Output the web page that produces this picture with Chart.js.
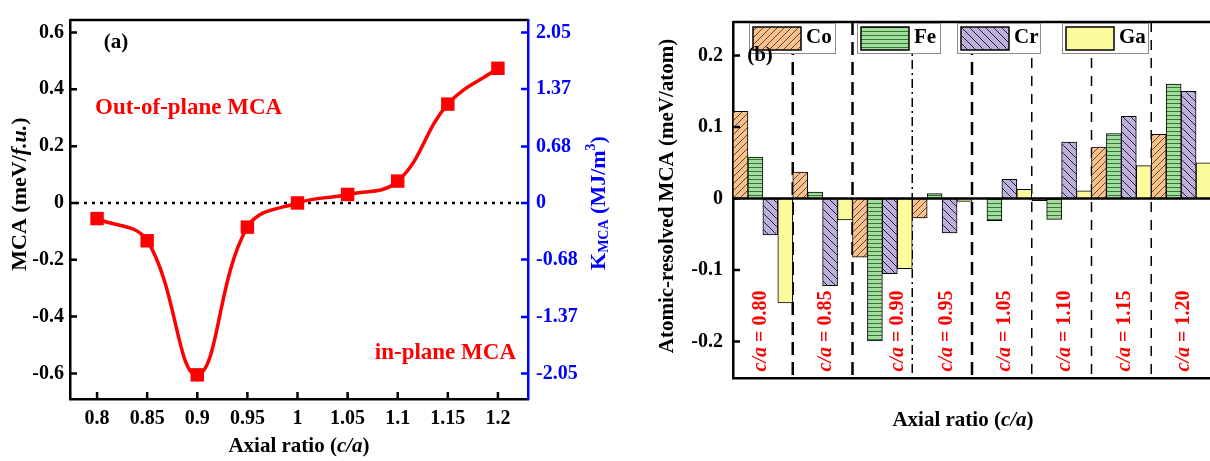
<!DOCTYPE html>
<html lang="en">
<head>
<meta charset="UTF-8">
<title>MCA vs axial ratio</title>
<script src="https://cdn.jsdelivr.net/npm/chart.js"></script>
<style>
  html, body { margin: 0; padding: 0; background: #fff; overflow: hidden; }
  #wrapA { position: absolute; left: 0; top: 0; width: 620px; height: 461px; }
  #wrapB { position: absolute; left: 630px; top: 0; width: 581px; height: 461px; }
</style>
</head>
<body>
<div id="wrapA"><canvas id="chartA"></canvas></div>
<div id="wrapB"><canvas id="chartB"></canvas></div>
<script>
// ---- panel (a) data ----
var axialRatios = [0.8, 0.85, 0.9, 0.95, 1.0, 1.05, 1.1, 1.15, 1.2];
var mcaValues = [-0.055, -0.133, -0.605, -0.085, 0.0, 0.03, 0.077, 0.348, 0.474];
var xTickValues = [0.8, 0.85, 0.9, 0.95, 1.0, 1.05, 1.1, 1.15, 1.2];
var xTickLabels = ['0.8', '0.85', '0.9', '0.95', '1', '1.05', '1.1', '1.15', '1.2'];
var leftTickValues = [-0.6, -0.4, -0.2, 0, 0.2, 0.4, 0.6];
var leftTickLabels = ['-0.6', '-0.4', '-0.2', '0', '0.2', '0.4', '0.6'];
var rightTickValues = [-2.05, -1.37, -0.68, 0, 0.68, 1.37, 2.05];
var rightTickLabels = ['-2.05', '-1.37', '-0.68', '0', '0.68', '1.37', '2.05'];

// ---- panel (b) data ----
var groupLabels = ['0.80', '0.85', '0.90', '0.95', '1.05', '1.10', '1.15', '1.20'];
var elementNames = ['Co', 'Fe', 'Cr', 'Ga'];
var coValues = [0.122, 0.037, -0.082, -0.027, 0, -0.003, 0.072, 0.090];
var feValues = [0.058, 0.009, -0.199, 0.007, -0.031, -0.029, 0.091, 0.160];
var crValues = [-0.051, -0.122, -0.105, -0.048, 0.027, 0.079, 0.115, 0.150];
var gaValues = [-0.146, -0.030, -0.098, -0.004, 0.013, 0.011, 0.046, 0.050];
var bTickValues = [-0.2, -0.1, 0, 0.1, 0.2];
var bTickLabels = ['-0.2', '-0.1', '0', '0.1', '0.2'];

var SERIF = '"Liberation Serif", "Times New Roman", serif';
var K_FACTOR = 2.05 / 0.6;  // MJ/m^3 per meV/f.u.

// draw a row of text pieces with mixed fonts, centred on (cx, cy)
function drawRich(ctx, parts, cx, cy, rot, align) {
    ctx.save();
    ctx.translate(cx, cy);
    if (rot) ctx.rotate(rot);
    ctx.textBaseline = 'middle';
    ctx.textAlign = 'left';
    var total = 0;
    parts.forEach(function (p) { ctx.font = p.font; total += ctx.measureText(p.t).width; });
    var x = align === 'left' ? 0 : (align === 'right' ? -total : -total / 2);
    parts.forEach(function (p) {
        ctx.font = p.font;
        ctx.fillStyle = p.color || '#000';
        ctx.fillText(p.t, x, p.dy || 0);
        x += ctx.measureText(p.t).width;
    });
    ctx.restore();
}

function bold(size) { return 'bold ' + size + 'px ' + SERIF; }
function boldItalic(size) { return 'italic bold ' + size + 'px ' + SERIF; }

// inward tick marks
function drawInwardTicks(ctx, scale, side, len, color) {
    ctx.save();
    ctx.strokeStyle = color;
    ctx.lineWidth = 2.5;
    ctx.beginPath();
    scale.ticks.forEach(function (t) {
        var p = scale.getPixelForValue(t.value);
        if (side === 'bottom') { ctx.moveTo(p, scale.top); ctx.lineTo(p, scale.top - len); }
        if (side === 'left') { ctx.moveTo(scale.right, p); ctx.lineTo(scale.right + len, p); }
        if (side === 'right') { ctx.moveTo(scale.left, p); ctx.lineTo(scale.left - len, p); }
    });
    ctx.stroke();
    ctx.restore();
}

// ---------------- panel (a) ----------------
var panelAPlugin = {
    id: 'panelA',
    beforeDatasetsDraw: function (chart) {
        var ctx = chart.ctx, a = chart.chartArea;
        var y0 = chart.scales.y.getPixelForValue(0);
        ctx.save();
        ctx.strokeStyle = '#000';
        ctx.lineWidth = 2.5;
        ctx.setLineDash([3, 5]);
        ctx.beginPath();
        ctx.moveTo(a.left + 6, y0);
        ctx.lineTo(a.right - 4, y0);
        ctx.stroke();
        ctx.restore();
    },
    afterDraw: function (chart) {
        var ctx = chart.ctx, a = chart.chartArea;
        // top frame
        ctx.save();
        ctx.strokeStyle = '#000';
        ctx.lineWidth = 2.5;
        ctx.beginPath();
        ctx.moveTo(a.left, a.top);
        ctx.lineTo(a.right, a.top);
        ctx.stroke();
        ctx.restore();
        drawInwardTicks(ctx, chart.scales.x, 'bottom', 7, '#000');
        drawInwardTicks(ctx, chart.scales.y, 'left', 7, '#000');
        drawInwardTicks(ctx, chart.scales.y2, 'right', 7, '#0000ff');

        drawRich(ctx, [{ t: '(a)', font: bold(21) }], 116, 43, 0);
        drawRich(ctx, [{ t: 'Out-of-plane MCA', font: bold(23), color: '#ff0000' }], 95, 108, 0, 'left');
        drawRich(ctx, [{ t: 'in-plane MCA', font: bold(23), color: '#ff0000' }], 516, 353, 0, 'right');

        drawRich(ctx, [
            { t: 'Axial ratio (', font: bold(21) },
            { t: 'c/a', font: boldItalic(21) },
            { t: ')', font: bold(21) }
        ], (a.left + a.right) / 2, 447, 0);
        drawRich(ctx, [
            { t: 'MCA (meV/', font: bold(22) },
            { t: 'f.u.', font: boldItalic(22) },
            { t: ')', font: bold(22) }
        ], 20, 194, -Math.PI / 2);
        drawRich(ctx, [
            { t: 'K', font: bold(22), color: '#0000ff' },
            { t: 'MCA', font: bold(14), color: '#0000ff', dy: 5 },
            { t: ' (MJ/m', font: bold(22), color: '#0000ff' },
            { t: '3', font: bold(14), color: '#0000ff', dy: -8 },
            { t: ')', font: bold(22), color: '#0000ff' }
        ], 599, 203, -Math.PI / 2);
    }
};

var yMinA = -0.69, yMaxA = 0.644;

new Chart(document.getElementById('chartA'), {
    type: 'line',
    data: {
        datasets: [{
            data: axialRatios.map(function (x, i) { return { x: x, y: mcaValues[i] }; }),
            borderColor: '#ff0000',
            backgroundColor: '#ff0000',
            borderWidth: 3.5,
            tension: 0.4,
            pointStyle: 'rect',
            pointRadius: 9.5,
            pointBorderWidth: 0,
            yAxisID: 'y'
        }]
    },
    options: {
        responsive: true,
        maintainAspectRatio: false,
        animation: false,
        layout: { padding: { top: 8, left: 0, right: 0, bottom: 0 } },
        plugins: { legend: { display: false }, tooltip: { enabled: false } },
        scales: {
            x: {
                type: 'linear',
                min: 0.773, max: 1.23,
                afterBuildTicks: function (s) { s.ticks = xTickValues.map(function (v) { return { value: v }; }); },
                afterFit: function (s) { s.height = 62; },
                grid: { display: false, drawTicks: false },
                border: { display: true, color: '#000', width: 2.5 },
                ticks: {
                    padding: 8, color: '#000', font: { family: SERIF, size: 20, weight: 'bold' },
                    maxRotation: 0, autoSkip: false,
                    callback: function (v, i) { return xTickLabels[i]; }
                }
            },
            y: {
                position: 'left',
                min: yMinA, max: yMaxA,
                afterBuildTicks: function (s) { s.ticks = leftTickValues.map(function (v) { return { value: v }; }); },
                afterFit: function (s) { s.width = 70; },
                grid: { display: false, drawTicks: false },
                border: { display: true, color: '#000', width: 2.5 },
                ticks: {
                    padding: 6, color: '#000', font: { family: SERIF, size: 20, weight: 'bold' },
                    autoSkip: false,
                    callback: function (v, i) { return leftTickLabels[i]; }
                }
            },
            y2: {
                position: 'right',
                min: yMinA * K_FACTOR, max: yMaxA * K_FACTOR,
                afterBuildTicks: function (s) { s.ticks = rightTickValues.map(function (v) { return { value: v }; }); },
                afterFit: function (s) { s.width = 92; },
                grid: { display: false, drawTicks: false },
                border: { display: true, color: '#0000ff', width: 2.5 },
                ticks: {
                    padding: 8, color: '#0000ff', font: { family: SERIF, size: 20, weight: 'bold' },
                    autoSkip: false,
                    callback: function (v, i) { return rightTickLabels[i]; }
                }
            }
        }
    },
    plugins: [panelAPlugin]
});

// ---------------- panel (b) ----------------
function makePattern(bg, line, kind, size) {
    var c = document.createElement('canvas');
    var s = size;
    c.width = s; c.height = s;
    var g = c.getContext('2d');
    g.fillStyle = bg;
    g.fillRect(0, 0, s, s);
    if (kind) {
        g.strokeStyle = line;
        g.lineWidth = 1;
        g.beginPath();
        if (kind === 'h') {
            g.moveTo(0, s - 0.5); g.lineTo(s, s - 0.5);
        } else if (kind === 'fwd') {
            g.moveTo(0, s); g.lineTo(s, 0);
            g.moveTo(-1, 1); g.lineTo(1, -1);
            g.moveTo(s - 1, s + 1); g.lineTo(s + 1, s - 1);
        } else {
            g.moveTo(0, 0); g.lineTo(s, s);
            g.moveTo(-1, s - 1); g.lineTo(1, s + 1);
            g.moveTo(s - 1, -1); g.lineTo(s + 1, 1);
        }
        g.stroke();
    }
    return g.createPattern(c, 'repeat');
}

var coFill = makePattern('#f8c290', '#6b4424', 'fwd', 7);
var feFill = makePattern('#a6dba0', '#2f7a35', 'h', 4);
var crFill = makePattern('#bdb1d9', '#2a2440', 'back', 8);
var gaFill = makePattern('#fbfb9e', null, null, 4);
var fills = [coFill, feFill, crFill, gaFill];

var separatorStyles = [
    { w: 2.5, dash: [13, 7] },
    { w: 2.5, dash: [13, 7] },
    { w: 1.5, dash: [9, 4, 2, 4] },
    { w: 2.5, dash: [13, 7] },
    { w: 1.5, dash: [10, 8] },
    { w: 1.5, dash: [10, 8] },
    { w: 1.5, dash: [10, 8] }
];
var labelShift = [-2, 3, 15, 5, 3, 3, 3, 3];
var legendOffsets = [16, 124, 224, 329];
var legendWidths = [86, 83, 83, 86];

var panelBPlugin = {
    id: 'panelB',
    beforeDatasetsDraw: function (chart) {
        var ctx = chart.ctx, a = chart.chartArea, xs = chart.scales.x;
        ctx.save();
        ctx.strokeStyle = '#000';
        for (var i = 0; i < groupLabels.length - 1; i++) {
            var st = separatorStyles[i];
            var xp = (xs.getPixelForTick(i) + xs.getPixelForTick(i + 1)) / 2;
            ctx.lineWidth = st.w;
            ctx.setLineDash(st.dash);
            ctx.beginPath();
            ctx.moveTo(xp, a.top);
            ctx.lineTo(xp, a.bottom);
            ctx.stroke();
        }
        ctx.restore();
    },
    afterDraw: function (chart) {
        var ctx = chart.ctx, a = chart.chartArea, xs = chart.scales.x, ys = chart.scales.y;
        // zero line and frame
        ctx.save();
        ctx.strokeStyle = '#000';
        ctx.lineWidth = 2.5;
        ctx.beginPath();
        var y0 = ys.getPixelForValue(0);
        ctx.moveTo(a.left, y0); ctx.lineTo(a.right, y0);
        ctx.moveTo(a.left, a.top); ctx.lineTo(a.right, a.top);
        ctx.stroke();
        ctx.restore();
        drawInwardTicks(ctx, ys, 'left', 7, '#000');

        // group labels
        groupLabels.forEach(function (g, i) {
            drawRich(ctx, [
                { t: 'c/a', font: boldItalic(20), color: '#ff0000' },
                { t: ' = ' + g, font: bold(20), color: '#ff0000' }
            ], xs.getPixelForTick(i) + labelShift[i], 331, -Math.PI / 2);
        });

        // legend boxes
        elementNames.forEach(function (name, i) {
            var bx = a.left + legendOffsets[i], by = a.top + 1, bw = legendWidths[i], bh = 30;
            ctx.save();
            ctx.fillStyle = '#fff';
            ctx.fillRect(bx, by, bw, bh);
            ctx.strokeStyle = '#8c8c8c';
            ctx.lineWidth = 1;
            ctx.strokeRect(bx + 0.5, by + 0.5, bw, bh);
            ctx.fillStyle = fills[i];
            ctx.fillRect(bx + 4, by + 4, 48, 23);
            ctx.strokeStyle = '#000';
            ctx.lineWidth = 1.5;
            ctx.strokeRect(bx + 4, by + 4, 48, 23);
            ctx.restore();
            drawRich(ctx, [{ t: name, font: bold(21) }], bx + 57, by + 15, 0, 'left');
        });

        drawRich(ctx, [{ t: '(b)', font: bold(21) }], 130, 56, 0);
        drawRich(ctx, [
            { t: 'Axial ratio (', font: bold(21) },
            { t: 'c/a', font: boldItalic(21) },
            { t: ')', font: bold(21) }
        ], 963 - 630, 421, 0);
        drawRich(ctx, [{ t: 'Atomic-resolved MCA (meV/atom)', font: bold(21) }], 668 - 630, 196, -Math.PI / 2);
    }
};

function barSet(label, values, fill) {
    return {
        label: label,
        data: values,
        backgroundColor: fill,
        borderColor: '#000',
        borderWidth: 1,
        borderSkipped: false,
        categoryPercentage: 1.0,
        barPercentage: 1.0
    };
}

new Chart(document.getElementById('chartB'), {
    type: 'bar',
    data: {
        labels: groupLabels,
        datasets: [
            barSet('Co', coValues, coFill),
            barSet('Fe', feValues, feFill),
            barSet('Cr', crValues, crFill),
            barSet('Ga', gaValues, gaFill)
        ]
    },
    options: {
        responsive: true,
        maintainAspectRatio: false,
        animation: false,
        layout: { padding: { top: 8, left: 0, right: 0, bottom: 0 } },
        plugins: { legend: { display: false }, tooltip: { enabled: false } },
        scales: {
            x: {
                ticks: { display: false },
                afterFit: function (s) { s.height = 83; },
                grid: { display: false, drawTicks: false },
                border: { display: true, color: '#000', width: 2.5 }
            },
            y: {
                min: -0.251, max: 0.247,
                afterBuildTicks: function (s) { s.ticks = bTickValues.map(function (v) { return { value: v }; }); },
                afterFit: function (s) { s.width = 103; },
                grid: { display: false, drawTicks: false },
                border: { display: true, color: '#000', width: 2.5 },
                ticks: {
                    padding: 10, color: '#000', font: { family: SERIF, size: 20, weight: 'bold' },
                    autoSkip: false,
                    callback: function (v, i) { return bTickLabels[i]; }
                }
            }
        }
    },
    plugins: [panelBPlugin]
});
</script>
</body>
</html>
